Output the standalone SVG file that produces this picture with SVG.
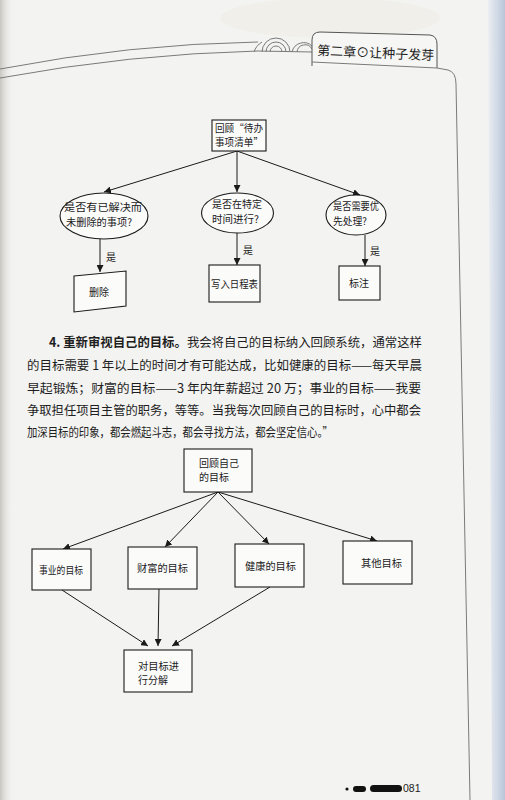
<svg xmlns="http://www.w3.org/2000/svg" width="505" height="800" viewBox="0 0 505 800">
  <defs>
    <marker id="arr" viewBox="0 0 10 10" refX="10" refY="5" markerWidth="7" markerHeight="7" orient="auto" markerUnits="userSpaceOnUse">
      <path d="M0,0 L10,5 L0,10 z" fill="#1a1a1a"/>
    </marker>
    <linearGradient id="gutter" x1="0" x2="1" y1="0" y2="0">
      <stop offset="0" stop-color="#c9c6c0"/>
      <stop offset="1" stop-color="#f2f2f0" stop-opacity="0"/>
    </linearGradient>
    <linearGradient id="edge" x1="0" x2="1" y1="0" y2="0">
      <stop offset="0" stop-color="#e9edf3"/>
      <stop offset="1" stop-color="#9fb2cf"/>
    </linearGradient>
  </defs>
  <style>
    .box { fill: #fbfbfa; stroke: #1a1a1a; stroke-width: 1.1; }
    .ell { fill: #fbfbfa; stroke: #1a1a1a; stroke-width: 1.1; }
    .lbl { font-family: "Noto Sans CJK SC", "Noto Sans", sans-serif; font-size: 10px; fill: #1a1a1a; }
    .body { font-family: "Noto Sans CJK SC", "Liberation Serif", serif; font-size: 12.5px; fill: #1e1e1e; }
    .bold { font-weight: bold; }
    .conn line, .conn path { stroke: #1a1a1a; stroke-width: 1; fill: none; }
    .deco { fill: none; stroke: #7a7a7a; stroke-width: 1; }
  </style>

  <!-- page background -->
  <rect x="0" y="0" width="505" height="800" fill="#f3f3f1"/>
  <rect x="0" y="0" width="14" height="800" fill="url(#gutter)"/>
  <path d="M488,0 L505,0 L505,800 L492,800 Z" fill="url(#edge)" opacity="0.7"/>
  <ellipse cx="330" cy="18" rx="110" ry="20" fill="#ece7d6" opacity="0.3"/>

  <!-- header decoration -->
  <g id="header">
    <path class="deco" d="M0,69 Q130,44 258,42"/>
    <path class="deco" d="M0,78 Q130,54 258,51"/>
    <path class="deco" d="M258,51 L312,52"/>
    <g class="deco">
      <path d="M262,52 A14,14 0 0 1 290,52"/>
      <path d="M266,52 A10,10 0 0 1 286,52"/>
      <path d="M270,52 A6,6 0 0 1 282,52"/>
      <path d="M292,52 A12,12 0 0 1 312,46"/>
      <path d="M297,52 A8,8 0 0 1 312,49"/>
      <path d="M254,52 A20,18 0 0 1 262,42"/>
    </g>
    <path d="M312,66 L312,40 Q312,32 320,32 L430,35 Q437,36 437,44 L437,68" fill="#f6f6f4" stroke="#555" stroke-width="1"/>
    <path class="deco" d="M312,62 L437,68 L448,70 Q456,72 456,84 L470,800" stroke="#888"/>
    <text x="317" y="55" font-family="Noto Sans CJK SC, sans-serif" font-size="13" fill="#222" transform="rotate(2.5 317 55)" textLength="117" lengthAdjust="spacingAndGlyphs">第二章⊙让种子发芽</text>
  </g>

  <!-- ===== Diagram 1 ===== -->
  <g id="connectors1" class="conn">
    <line x1="237" y1="151" x2="104" y2="192" marker-end="url(#arr)"/>
    <line x1="237" y1="151" x2="237" y2="192" marker-end="url(#arr)"/>
    <line x1="237" y1="151" x2="360" y2="195" marker-end="url(#arr)"/>
    <line x1="100" y1="239" x2="100" y2="272" marker-end="url(#arr)"/>
    <line x1="237" y1="233" x2="237" y2="265" marker-end="url(#arr)"/>
    <line x1="365" y1="235" x2="365" y2="266" marker-end="url(#arr)"/>
  </g>
  <g id="yes-labels" class="lbl">
    <text x="106" y="261">是</text>
    <text x="243" y="254">是</text>
    <text x="370" y="255">是</text>
  </g>

  <g id="n-review-todo">
    <rect class="box" x="212" y="120" width="54" height="31"/>
    <text class="lbl" x="215" y="132" font-size="9.5" textLength="48" lengthAdjust="spacingAndGlyphs">回顾“待办</text>
    <text class="lbl" x="215" y="146" font-size="9.5" textLength="48" lengthAdjust="spacingAndGlyphs">事项清单”</text>
  </g>
  <g id="n-q-solved">
    <ellipse class="ell" cx="104" cy="216" rx="44" ry="23"/>
    <text class="lbl" x="64" y="211" textLength="78" lengthAdjust="spacingAndGlyphs">是否有已解决而</text>
    <text class="lbl" x="66" y="226" textLength="66" lengthAdjust="spacingAndGlyphs">未删除的事项?</text>
  </g>
  <g id="n-q-time">
    <ellipse class="ell" cx="237.5" cy="213" rx="36" ry="20"/>
    <text class="lbl" x="212" y="208" textLength="50" lengthAdjust="spacingAndGlyphs">是否在特定</text>
    <text class="lbl" x="212" y="223" textLength="47" lengthAdjust="spacingAndGlyphs">时间进行?</text>
  </g>
  <g id="n-q-priority">
    <ellipse class="ell" cx="356" cy="215" rx="30" ry="20"/>
    <text class="lbl" x="333" y="210" textLength="46" lengthAdjust="spacingAndGlyphs">是否需要优</text>
    <text class="lbl" x="333" y="225" textLength="34" lengthAdjust="spacingAndGlyphs">先处理?</text>
  </g>
  <g id="n-delete">
    <polygon class="box" points="74,276 126,271 126,306 74,312"/>
    <text class="lbl" x="89" y="296">删除</text>
  </g>
  <g id="n-schedule">
    <rect class="box" x="209" y="265" width="51" height="37"/>
    <text class="lbl" x="211" y="288" textLength="47" lengthAdjust="spacingAndGlyphs">写入日程表</text>
  </g>
  <g id="n-mark">
    <rect class="box" x="339" y="266" width="41" height="34"/>
    <text class="lbl" x="349" y="287">标注</text>
  </g>

  <!-- ===== Body text ===== -->
  <g id="paragraph" class="body">
    <text x="49" y="347" textLength="373" lengthAdjust="spacingAndGlyphs"><tspan class="bold">4. 重新审视自己的目标。</tspan>我会将自己的目标纳入回顾系统，通常这样</text>
    <text x="27" y="370" textLength="395" lengthAdjust="spacingAndGlyphs">的目标需要 1 年以上的时间才有可能达成，比如健康的目标——每天早晨</text>
    <text x="27" y="393" textLength="394" lengthAdjust="spacingAndGlyphs">早起锻炼；财富的目标——3 年内年薪超过 20 万；事业的目标——我要</text>
    <text x="27" y="415" textLength="394" lengthAdjust="spacingAndGlyphs">争取担任项目主管的职务，等等。当我每次回顾自己的目标时，心中都会</text>
    <text x="27" y="437" textLength="306" lengthAdjust="spacingAndGlyphs">加深目标的印象，都会燃起斗志，都会寻找方法，都会坚定信心。”</text>
  </g>

  <!-- ===== Diagram 2 ===== -->
  <g id="connectors2" class="conn">
    <line x1="218" y1="492" x2="63" y2="549" marker-end="url(#arr)"/>
    <line x1="218" y1="492" x2="165" y2="547" marker-end="url(#arr)"/>
    <line x1="218" y1="492" x2="269" y2="544" marker-end="url(#arr)"/>
    <line x1="218" y1="492" x2="377" y2="541" marker-end="url(#arr)"/>
    <line x1="62" y1="590" x2="148" y2="646" marker-end="url(#arr)"/>
    <line x1="159" y1="589" x2="158" y2="646" marker-end="url(#arr)"/>
    <line x1="270" y1="587" x2="172" y2="646" marker-end="url(#arr)"/>
  </g>

  <g id="n-review-goals">
    <rect class="box" x="184" y="449" width="68" height="43"/>
    <text class="lbl" x="199" y="466.5">回顾自己</text>
    <text class="lbl" x="199" y="481">的目标</text>
  </g>
  <g id="n-career">
    <rect class="box" x="32" y="549" width="59" height="41"/>
    <text class="lbl" x="39" y="574" font-size="9.5" textLength="44" lengthAdjust="spacingAndGlyphs">事业的目标</text>
  </g>
  <g id="n-wealth">
    <rect class="box" x="128" y="547" width="69" height="42"/>
    <text class="lbl" x="137" y="572" textLength="51" lengthAdjust="spacingAndGlyphs">财富的目标</text>
  </g>
  <g id="n-health">
    <rect class="box" x="235" y="544" width="69" height="43"/>
    <text class="lbl" x="245" y="570" textLength="51" lengthAdjust="spacingAndGlyphs">健康的目标</text>
  </g>
  <g id="n-other">
    <rect class="box" x="343" y="541" width="69" height="43"/>
    <text class="lbl" x="361" y="567" textLength="41" lengthAdjust="spacingAndGlyphs">其他目标</text>
  </g>
  <g id="n-decompose">
    <rect class="box" x="124" y="650" width="68" height="42"/>
    <text class="lbl" x="138" y="669.5" textLength="41" lengthAdjust="spacingAndGlyphs">对目标进</text>
    <text class="lbl" x="138" y="684">行分解</text>
  </g>

  <!-- page number -->
  <g id="folio">
    <circle cx="347" cy="789" r="1.6" fill="#111"/>
    <rect x="353" y="786" width="13" height="6" rx="3" fill="#111"/>
    <rect x="370" y="785" width="32" height="7" rx="3.5" fill="#111"/>
    <text x="403" y="792" font-family="Liberation Sans, sans-serif" font-size="10.5" fill="#222">081</text>
  </g>
</svg>
